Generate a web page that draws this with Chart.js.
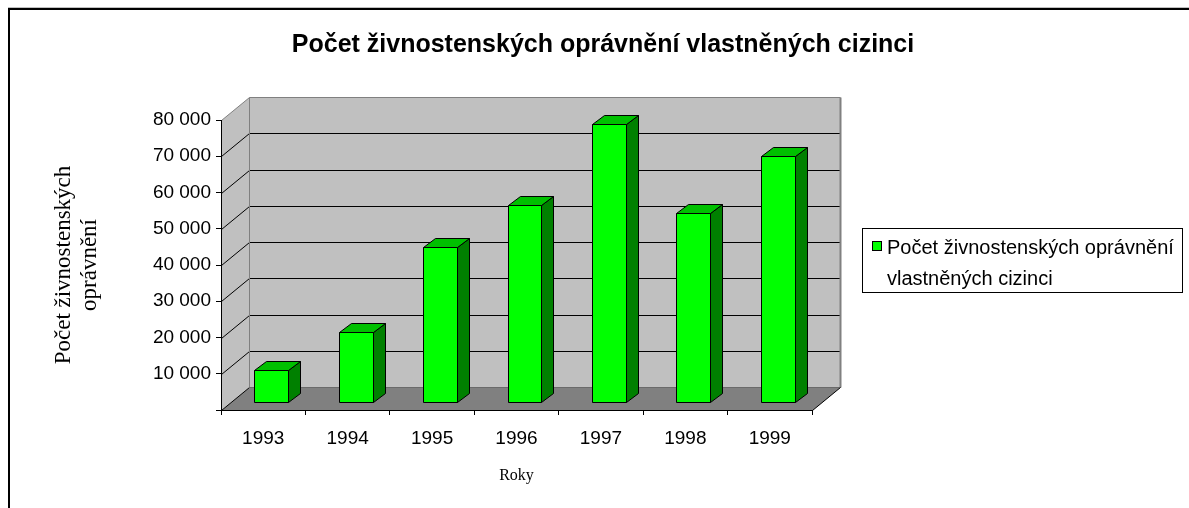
<!DOCTYPE html>
<html>
<head>
<meta charset="utf-8">
<script src="https://cdn.jsdelivr.net/npm/chart.js@4.4.0/dist/chart.umd.min.js"></script>
<style>
  html, body { margin: 0; padding: 0; background: #fff; }
  #wrap { width: 1189px; height: 508px; }
</style>
</head>
<body>
<div id="wrap"><canvas id="chart" width="1189" height="508"></canvas></div>
<script>
// data
const years = ['1993', '1994', '1995', '1996', '1997', '1998', '1999'];
const permits = [8800, 19300, 42800, 54300, 76700, 52100, 67900];
const yTicks = [0, 10000, 20000, 30000, 40000, 50000, 60000, 70000, 80000];
const seriesName = 'Počet živnostenských oprávnění vlastněných cizinci';
const legendLines = ['Počet živnostenských oprávnění', 'vlastněných cizinci'];
const yTitle = ['Počet živnostenských', 'oprávnění'];
const xTitle = 'Roky';

const sans = '"Liberation Sans", Arial, sans-serif';
const serif = '"Liberation Serif", "Times New Roman", serif';

// wall depth and bar placement inside it
const DX = 28, DY = -23;
const BX = 8, BY = -8;
const BDX = 12, BDY = -9;

function fmt(v) {
  return String(v).replace(/\B(?=(\d{3})+(?!\d))/g, ' ');
}

function poly(ctx, pts, fill, stroke) {
  ctx.beginPath();
  ctx.moveTo(pts[0][0], pts[0][1]);
  for (let i = 1; i < pts.length; i++) ctx.lineTo(pts[i][0], pts[i][1]);
  ctx.closePath();
  if (fill) { ctx.fillStyle = fill; ctx.fill(); }
  if (stroke) { ctx.strokeStyle = stroke; ctx.stroke(); }
}

function line(ctx, x1, y1, x2, y2, color) {
  ctx.strokeStyle = color;
  ctx.beginPath();
  ctx.moveTo(x1, y1);
  ctx.lineTo(x2, y2);
  ctx.stroke();
}

const depth3d = {
  id: 'depth3d',
  beforeDraw(chart) {
    const { ctx, chartArea: a, scales } = chart;
    const y = scales.y;
    const L = a.left + 0.5, R = a.right + 0.5, T = Math.round(a.top) + 0.5, B = Math.round(a.bottom) + 0.5;
    ctx.save();
    // frame of the picture
    ctx.fillStyle = '#c0c0c0';
    ctx.fillRect(8, 7, 1181, 1);
    ctx.fillStyle = '#000';
    ctx.fillRect(8, 8, 1181, 2);
    ctx.fillRect(8, 8, 2, 500);

    ctx.lineWidth = 1;
    // back wall, side wall, floor
    poly(ctx, [[L + DX, T + DY], [R + DX, T + DY], [R + DX, B + DY], [L + DX, B + DY]], '#c0c0c0');
    poly(ctx, [[L, T], [L + DX, T + DY], [L + DX, B + DY], [L, B]], '#c0c0c0');
    poly(ctx, [[L, B], [R, B], [R + DX, B + DY], [L + DX, B + DY]], '#808080');

    // gridlines on the walls
    yTicks.forEach(v => {
      const py = Math.round(y.getPixelForValue(v)) + 0.5;
      const top = v === yTicks[yTicks.length - 1];
      if (v === 0) {
        line(ctx, L + DX, py + DY, R + DX, py + DY, '#6a6a6a');
        line(ctx, L, py, L + DX, py + DY, '#000');
      } else if (!top) {
        line(ctx, L + DX, py + DY, R + DX, py + DY, '#000');
        line(ctx, L, py, L + DX, py + DY, '#000');
      }
    });
    // wall edges
    line(ctx, L, T, L + DX, T + DY, '#808080');
    line(ctx, L + DX, T + DY, R + DX, T + DY, '#808080');
    line(ctx, L + DX, T + DY, L + DX, B + DY, '#808080');
    ctx.lineWidth = 2;
    line(ctx, R + DX, T + DY, R + DX, B + DY, '#808080');
    ctx.lineWidth = 1;
    line(ctx, R, B, R + DX, B + DY, '#000');
    ctx.restore();
  },
  beforeDatasetDraw() {
    return false;
  },
  afterDatasetsDraw(chart) {
    const ctx = chart.ctx;
    const meta = chart.getDatasetMeta(0);
    ctx.save();
    ctx.lineWidth = 1;
    meta.data.forEach(bar => {
      const p = bar.getProps(['x', 'y', 'base', 'width'], true);
      const l = Math.round(p.x - p.width / 2 + BX) + 0.5;
      const r = Math.round(p.x + p.width / 2 + BX) + 0.5;
      const t = Math.round(p.y + BY) + 0.5;
      const b = Math.round(p.base + BY) + 0.5;
      poly(ctx, [[r, t], [r + BDX, t + BDY], [r + BDX, b + BDY], [r, b]], '#008000', '#000');
      poly(ctx, [[l, t], [r, t], [r + BDX, t + BDY], [l + BDX, t + BDY]], '#00c000', '#000');
      poly(ctx, [[l, t], [r, t], [r, b], [l, b]], '#00ff00', '#000');
    });
    ctx.restore();
  },
  afterDraw(chart) {
    const ctx = chart.ctx;
    ctx.save();
    ctx.lineWidth = 1;
    ctx.strokeStyle = '#000';
    ctx.strokeRect(862.5, 228.5, 320, 64);
    ctx.fillStyle = '#00ff00';
    ctx.fillRect(872, 241, 10, 10);
    ctx.strokeRect(872.5, 241.5, 9, 9);
    ctx.fillStyle = '#000';
    ctx.font = '20px ' + sans;
    ctx.textBaseline = 'middle';
    ctx.textAlign = 'left';
    ctx.fillText(legendLines[0], 887, 248);
    ctx.fillText(legendLines[1], 887, 279);
    ctx.restore();
  }
};

Chart.defaults.font.family = sans;
Chart.defaults.color = '#000';

new Chart(document.getElementById('chart'), {
  type: 'bar',
  data: {
    labels: years,
    datasets: [{
      label: seriesName,
      data: permits,
      backgroundColor: '#00ff00',
      borderColor: '#000',
      borderWidth: 1,
      categoryPercentage: 1,
      barPercentage: 0.4
    }]
  },
  options: {
    responsive: false,
    animation: false,
    layout: { padding: { left: 26, right: 9, top: 10, bottom: 18 } },
    plugins: {
      legend: { display: false },
      tooltip: { enabled: false },
      title: {
        display: true,
        text: seriesName,
        color: '#000',
        font: { family: sans, size: 25, weight: 'bold', lineHeight: 1.2 },
        padding: { top: 20, bottom: 60 }
      }
    },
    scales: {
      x: {
        offset: true,
        grid: { offset: true, drawOnChartArea: false, color: '#000', tickLength: 5 },
        border: { color: '#000' },
        ticks: { font: { size: 19 }, padding: 12, maxRotation: 0 },
        title: { display: true, text: xTitle, font: { family: serif, size: 16, lineHeight: 1.2 }, padding: { top: 0, bottom: 4.4 } },
        afterFit(s) { s.height = 80; }
      },
      y: {
        min: 0,
        max: 80000,
        grid: { drawOnChartArea: false, color: '#000', tickLength: 5 },
        border: { color: '#000' },
        ticks: { stepSize: 10000, font: { size: 19 }, padding: 5, callback: v => (v === 0 ? '' : fmt(v)) },
        title: { display: true, text: yTitle, font: { family: serif, size: 23, lineHeight: 1.13 }, padding: { top: 25, bottom: 0 } },
        afterFit(s) { s.width = 195; }
      },
      yr: {
        position: 'right',
        display: true,
        grid: { display: false },
        border: { display: false },
        ticks: { display: false },
        afterFit(s) { s.width = 368; }
      }
    }
  },
  plugins: [depth3d]
});
</script>
</body>
</html>
